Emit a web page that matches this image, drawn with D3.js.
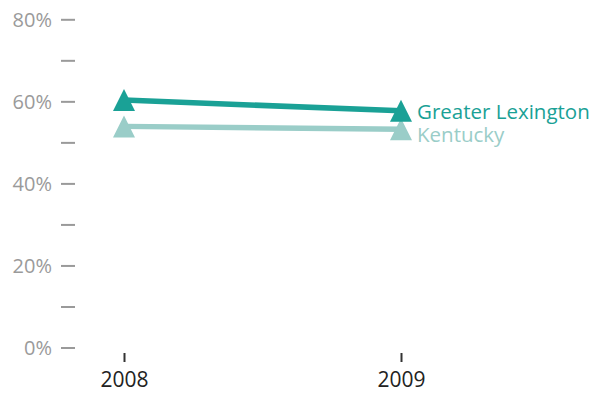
<!DOCTYPE html>
<html><head><meta charset="utf-8">
<script src="https://cdn.jsdelivr.net/npm/d3@7/dist/d3.min.js"></script>
<style>
html,body{margin:0;padding:0;background:#fff;}
text{font-family:"Open Sans",sans-serif;}
</style></head>
<body><svg id="c" width="602" height="394"></svg>
<script>
const years = ["2008", "2009"];
const seriesNames = ["Kentucky", "Greater Lexington"];
const kentucky = [53.9, 53.2];
const lexington = [60.3, 57.7];
const yTicks = [0, 10, 20, 30, 40, 50, 60, 70, 80];
const yTickLabels = ["0%", "", "20%", "", "40%", "", "60%", "", "80%"];
const colors = {"Kentucky": "#9acdc8", "Greater Lexington": "#1aa196"};

const svg = d3.select("#c");
const x = d3.scalePoint().domain(years).range([124, 401]);
const y = d3.scaleLinear().domain([0, 80]).range([347.5, 19.3]);

// Y axis
const yAxis = d3.axisLeft(y).tickValues(yTicks).tickSize(14).tickPadding(9)
  .tickFormat((d, i) => yTickLabels[i]);
const gy = svg.append("g").attr("transform", "translate(75,0)").call(yAxis);
gy.select(".domain").remove();
gy.selectAll(".tick line").attr("stroke", "#9a9a9a").attr("stroke-width", 2);
gy.selectAll(".tick text").attr("fill", "#9a9a9a").style("font-size", "20px")
  .style("font-family", "'Open Sans',sans-serif").attr("dy", "0.36em");

// X axis
const xAxis = d3.axisBottom(x).tickSize(9).tickPadding(10);
const gx = svg.append("g").attr("transform", "translate(0,353)").call(xAxis);
gx.select(".domain").remove();
gx.selectAll(".tick line").attr("stroke", "#333").attr("stroke-width", 2);
gx.selectAll(".tick text").attr("fill", "#222").style("font-size", "21px")
  .style("font-family", "'Open Sans',sans-serif");

const data = [
  {name: "Kentucky", values: kentucky, labelDy: 12.5},
  {name: "Greater Lexington", values: lexington, labelDy: 8.5}
];

const line = d3.line().x((d, i) => x(years[i])).y(d => y(d));
const tri = d3.symbol().type(d3.symbolTriangle).size(210);

data.forEach(s => {
  const g = svg.append("g");
  g.append("path").attr("d", line(s.values)).attr("fill", "none")
    .attr("stroke", colors[s.name]).attr("stroke-width", 5.5);
  g.selectAll("path.pt").data(s.values).enter().append("path").attr("class", "pt")
    .attr("d", "M0,-11 L11,11 L-11,11 Z")
    .attr("transform", (d, i) => `translate(${x(years[i])},${y(d)})`)
    .attr("fill", colors[s.name]);
  g.append("text").attr("x", x(years[1]) + 16).attr("y", y(s.values[1]) + s.labelDy)
    .attr("fill", colors[s.name]).style("font-size", "20.5px").text(s.name);
});
</script></body></html>
